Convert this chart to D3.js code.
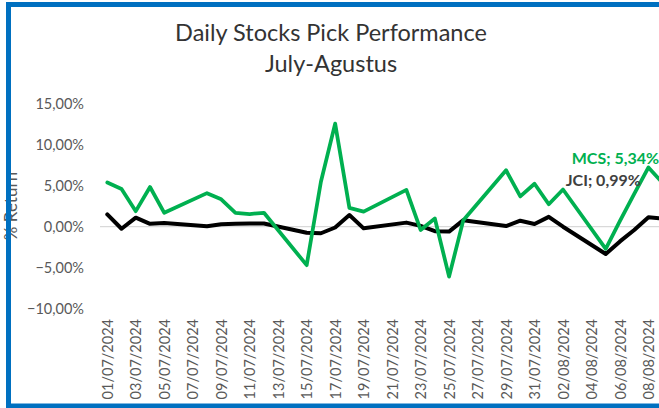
<!DOCTYPE html>
<html>
<head>
<meta charset="utf-8">
<script src="https://cdn.jsdelivr.net/npm/d3@7"></script>
<style>
  html, body { margin: 0; padding: 0; background: #fff; }
  svg { display: block; }
  text { font-family: Lato, "Open Sans", sans-serif; }
</style>
</head>
<body>
<div id="chart"></div>
<script>
const title1 = "Daily Stocks Pick Performance";
const title2 = "July-Agustus";
const yTitle = "% Return";

const dates = ["2024-07-01","2024-07-02","2024-07-03","2024-07-04","2024-07-05",
  "2024-07-08","2024-07-09","2024-07-10","2024-07-11","2024-07-12",
  "2024-07-15","2024-07-16","2024-07-17","2024-07-18","2024-07-19",
  "2024-07-22","2024-07-23","2024-07-24","2024-07-25","2024-07-26",
  "2024-07-29","2024-07-30","2024-07-31","2024-08-01","2024-08-02",
  "2024-08-05","2024-08-06","2024-08-07","2024-08-08","2024-08-09"];
const mcs = [5.4, 4.6, 1.9, 4.85, 1.7, 4.1, 3.35, 1.7, 1.55, 1.7,
  -4.7, 5.5, 12.6, 2.3, 1.85, 4.5, -0.4, 1.0, -6.1, 0.8,
  6.9, 3.7, 5.25, 2.75, 4.55, -2.7, 0.7, 4.0, 7.25, 5.34];
const jci = [1.5, -0.25, 1.1, 0.35, 0.45, 0.05, 0.3, 0.35, 0.4, 0.4,
  -0.73, -0.8, -0.1, 1.43, -0.2, 0.5, 0.1, -0.55, -0.6, 0.8,
  0.08, 0.73, 0.33, 1.2, 0.0, -3.34, -1.8, -0.4, 1.15, 0.99];
const yTicks = [-10, -5, 0, 5, 10, 15];
const seriesNames = ["MCS", "JCI"];

const W = 659, H = 408;
const parse = d3.timeParse("%Y-%m-%d");
const dts = dates.map(parse);

const svg = d3.select("#chart").append("svg").attr("width", W).attr("height", H);

const x = d3.scaleTime().domain([parse("2024-07-01"), parse("2024-08-09")]).range([107.3, 662.7]);
const y = d3.scaleLinear().domain([-10, 15]).range([308.5, 104]);

const fmtPct = v => d3.format(".2f")(v).replace(".", ",") + "%";

// titles
svg.append("text").attr("x", 331).attr("y", 41).attr("text-anchor", "middle")
  .attr("font-size", 23.5).attr("fill", "#333").text(title1);
svg.append("text").attr("x", 331).attr("y", 72).attr("text-anchor", "middle")
  .attr("font-size", 23.5).attr("fill", "#333").text(title2);

// y axis title
svg.append("text").attr("transform", "translate(16.5,206) rotate(-90)")
  .attr("text-anchor", "middle").attr("font-size", 17).attr("fill", "#595959").text(yTitle);

// y tick labels
const yAxis = d3.axisLeft(y).tickValues(yTicks).tickSize(0).tickPadding(0).tickFormat(fmtPct);
const gy = svg.append("g").attr("transform", "translate(84,0)").call(yAxis);
gy.select(".domain").remove();
gy.selectAll("text").attr("font-size", 14.5).attr("fill", "#595959")
  .attr("font-family", "Lato, sans-serif");

// zero line
svg.append("line").attr("x1", 100).attr("x2", W).attr("y1", y(0)).attr("y2", y(0))
  .attr("stroke", "#d9d9d9").attr("stroke-width", 1.2);

// x labels
const xTickVals = d3.timeDay.range(parse("2024-07-01"), parse("2024-08-09"), 1)
  .filter((d, i) => i % 2 === 0);
const xAxis = d3.axisBottom(x).tickValues(xTickVals).tickSize(0).tickPadding(0)
  .tickFormat(d3.timeFormat("%d/%m/%Y"));
const gx = svg.append("g").attr("transform", "translate(0,319)").call(xAxis);
gx.select(".domain").remove();
gx.selectAll("text").attr("font-size", 14.5).attr("fill", "#595959")
  .attr("font-family", "Lato, sans-serif")
  .attr("text-anchor", "end").attr("transform", "rotate(-90)")
  .attr("x", 0).attr("y", 0).attr("dy", "0.35em");

// lines
const line = d3.line().x((d, i) => x(dts[i])).y(d => y(d));
svg.append("path").datum(jci).attr("d", line).attr("fill", "none")
  .attr("stroke", "#000").attr("stroke-width", 4).attr("stroke-linejoin", "round").attr("stroke-linecap", "round");
svg.append("path").datum(mcs).attr("d", line).attr("fill", "none")
  .attr("stroke", "#00B050").attr("stroke-width", 3.75).attr("stroke-linejoin", "round").attr("stroke-linecap", "round");

// data labels
const last = dts.length - 1;
svg.append("text").attr("x", x(dts[last]) - 91).attr("y", y(mcs[last]) - 19)
  .attr("font-size", 16).attr("font-weight", "bold").attr("fill", "#00B050")
  .text(seriesNames[0] + "; " + fmtPct(mcs[last]));
svg.append("text").attr("x", x(dts[last]) - 97).attr("y", y(jci[last]) - 33)
  .attr("font-size", 16).attr("font-weight", "bold").attr("fill", "#404040")
  .text(seriesNames[1] + "; " + fmtPct(jci[last]));

// blue frame
svg.append("rect").attr("x", 8.5).attr("y", 4.5).attr("width", 700).attr("height", 401.5)
  .attr("fill", "none").attr("stroke", "#0070C0").attr("stroke-width", 5);
</script>
</body>
</html>
